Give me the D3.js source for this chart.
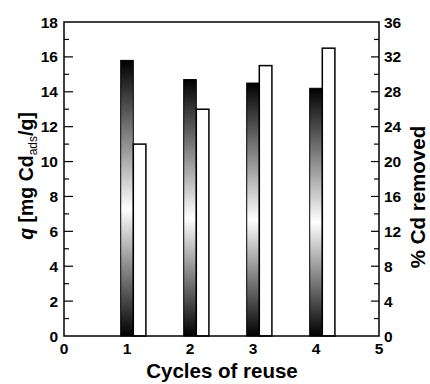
<!DOCTYPE html>
<html><head><meta charset="utf-8">
<script src="https://cdnjs.cloudflare.com/ajax/libs/d3/7.8.5/d3.min.js"></script>
<style>
html,body{margin:0;padding:0;background:#fff;}
svg{display:block;font-family:"Liberation Sans",Arial,sans-serif;font-weight:bold;}
</style></head>
<body><svg id="c" width="430" height="384"></svg>
<script>
const cycles = [1, 2, 3, 4];
const qValues = [15.8, 14.7, 14.5, 14.2];
const removedValues = [22, 26, 31, 33];
const xTicks = [0, 1, 2, 3, 4, 5];
const qTicks = [0, 2, 4, 6, 8, 10, 12, 14, 16, 18];
const rTicks = [0, 4, 8, 12, 16, 20, 24, 28, 32, 36];

const svg = d3.select("#c");
const L = 64, R = 379, T = 22, B = 336;
const x = d3.scaleLinear().domain([0, 5]).range([L, R]);
const yq = d3.scaleLinear().domain([0, 18]).range([B, T]);
const yr = d3.scaleLinear().domain([0, 36]).range([B, T]);

const defs = svg.append("defs");
const g = defs.append("linearGradient").attr("id", "bg").attr("x1", 0).attr("x2", 0).attr("y1", 0).attr("y2", 1);
g.append("stop").attr("offset", "0%").attr("stop-color", "#000");
g.append("stop").attr("offset", "54%").attr("stop-color", "#fff");
g.append("stop").attr("offset", "100%").attr("stop-color", "#000");

// bars
const bw = 0.2;
svg.selectAll(".qb").data(cycles).enter().append("rect")
  .attr("x", (d) => x(d - bw / 2))
  .attr("width", (d) => x(d + bw / 2) - x(d - bw / 2))
  .attr("y", (d, i) => yq(qValues[i]))
  .attr("height", (d, i) => yq(0) - yq(qValues[i]))
  .attr("fill", "url(#bg)").attr("stroke", "#000").attr("stroke-width", 1);
svg.selectAll(".rb").data(cycles).enter().append("rect")
  .attr("x", (d) => x(d + bw / 2))
  .attr("width", (d) => x(d + bw * 1.5) - x(d + bw / 2))
  .attr("y", (d, i) => yr(removedValues[i]))
  .attr("height", (d, i) => yr(0) - yr(removedValues[i]))
  .attr("fill", "#fff").attr("stroke", "#000").attr("stroke-width", 1.5);

// left axis ticks (inward)
const minorQ = d3.range(1, 18, 2);
svg.selectAll(".lt").data(qTicks.slice(1, -1)).enter().append("line")
  .attr("x1", L).attr("x2", L + 9).attr("y1", yq).attr("y2", yq).attr("stroke", "#000").attr("stroke-width", 1.2);
svg.selectAll(".lm").data(minorQ).enter().append("line")
  .attr("x1", L).attr("x2", L + 5).attr("y1", yq).attr("y2", yq).attr("stroke", "#000").attr("stroke-width", 1.2);
svg.selectAll(".ll").data(qTicks).enter().append("text")
  .attr("x", L - 6).attr("y", yq).attr("dy", "0.36em").attr("text-anchor", "end")
  .attr("font-size", 15.5).text(d => d);

// right axis ticks
const minorR = d3.range(2, 36, 4);
svg.selectAll(".rt").data(rTicks.slice(1, -1)).enter().append("line")
  .attr("x1", R).attr("x2", R - 8).attr("y1", yr).attr("y2", yr).attr("stroke", "#000").attr("stroke-width", 1.2);
svg.selectAll(".rm").data(minorR).enter().append("line")
  .attr("x1", R).attr("x2", R - 5).attr("y1", yr).attr("y2", yr).attr("stroke", "#000").attr("stroke-width", 1.2);
svg.selectAll(".rl").data(rTicks).enter().append("text")
  .attr("x", R + 5).attr("y", yr).attr("dy", "0.36em").attr("text-anchor", "start")
  .attr("font-size", 15.5).text(d => d);

// x labels
svg.selectAll(".xl").data(xTicks).enter().append("text")
  .attr("x", x).attr("y", B + 18).attr("text-anchor", "middle")
  .attr("font-size", 15.5).text(d => d);

// frame
svg.append("rect").attr("x", L).attr("y", T).attr("width", R - L).attr("height", B - T)
  .attr("fill", "none").attr("stroke", "#000").attr("stroke-width", 1.5);

// axis titles
svg.append("text").attr("x", 222).attr("y", 378).attr("text-anchor", "middle")
  .attr("font-size", 20.5).text("Cycles of reuse");

const yl = svg.append("text").attr("transform", "translate(33,176) rotate(-90)")
  .attr("text-anchor", "middle").attr("font-size", 19.5);
yl.append("tspan").attr("font-style", "italic").text("q");
yl.append("tspan").text(" [mg Cd");
yl.append("tspan").attr("font-size", 12).attr("font-weight", "normal").attr("dy", 4).text("ads");
yl.append("tspan").attr("dy", -4).text("/g]");

svg.append("text").attr("transform", "translate(425,197) rotate(-90)")
  .attr("text-anchor", "middle").attr("font-size", 20.5).text("% Cd removed");
</script></body></html>
